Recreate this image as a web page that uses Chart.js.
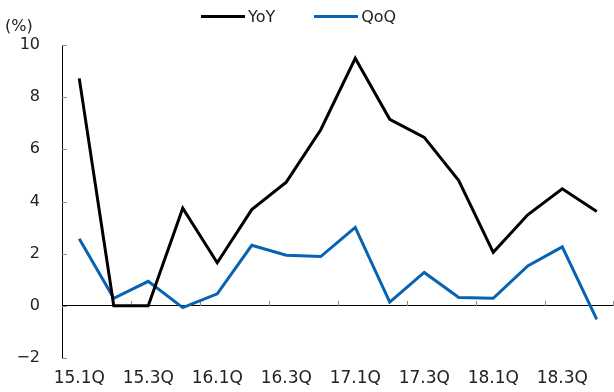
<!DOCTYPE html>
<html lang="ko">
<head>
  <meta charset="UTF-8">
  <title>YoY / QoQ</title>
  <script src="https://cdn.jsdelivr.net/npm/chart.js"></script>
  <style>
    html, body { margin: 0; padding: 0; background: #fff; }
    #wrap { position: relative; width: 614px; height: 392px; font-family: "DejaVu Sans", sans-serif; color: #222; }
    #grafica { display: block; }
    #unidad { position: absolute; left: 5px; top: 16px; font-size: 16px; }
    #leyenda { position: absolute; top: 7px; left: 201px; display: flex; font-size: 16px; line-height: 19px; }
    .item { display: flex; align-items: center; margin-right: 39px; }
    .linea { width: 44px; height: 3px; margin-right: 3px; }
  </style>
</head>
<body>
  <div id="wrap">
    <canvas id="grafica" width="614" height="392"></canvas>
    <div id="unidad">(%)</div>
    <div id="leyenda"></div>
  </div>

  <script>
    var trimestres = ['15.1Q', '15.2Q', '15.3Q', '15.4Q', '16.1Q', '16.2Q', '16.3Q', '16.4Q',
                      '17.1Q', '17.2Q', '17.3Q', '17.4Q', '18.1Q', '18.2Q', '18.3Q', '18.4Q'];
    var yoy = [8.72, 0, 0, 3.74, 1.65, 3.69, 4.74, 6.75, 9.49, 7.15, 6.46, 4.80, 2.05, 3.49, 4.49, 3.62];
    var qoq = [2.57, 0.29, 0.94, -0.07, 0.46, 2.32, 1.94, 1.89, 3.01, 0.14, 1.28, 0.32, 0.29, 1.53, 2.26, -0.52];
    var ticksY = [-2, 0, 2, 4, 6, 8, 10];

    var series = [
      { label: 'YoY', data: yoy, color: '#000000' },
      { label: 'QoQ', data: qoq, color: '#0762b2' }
    ];

    // leyenda en html
    var leyenda = document.getElementById('leyenda');
    series.forEach(function (s) {
      var item = document.createElement('div');
      item.className = 'item';
      var linea = document.createElement('span');
      linea.className = 'linea';
      linea.style.background = s.color;
      var texto = document.createElement('span');
      texto.textContent = s.label;
      item.appendChild(linea);
      item.appendChild(texto);
      leyenda.appendChild(item);
    });

    // marcas pequeñas: hacia dentro en el eje Y, hacia arriba sobre la línea de cero
    var marcas = {
      id: 'marcas',
      beforeDatasetsDraw: function (chart) {
        var ctx = chart.ctx;
        var x = chart.scales.x, y = chart.scales.y;
        ctx.save();
        ctx.strokeStyle = '#8a8a8a';
        ctx.lineWidth = 1;
        ctx.beginPath();
        ticksY.forEach(function (v) {
          var py = Math.round(y.getPixelForValue(v)) + 0.5;
          ctx.moveTo(x.left, py);
          ctx.lineTo(x.left + 5, py);
        });
        var y0 = Math.round(y.getPixelForValue(0));
        for (var i = 1; i < trimestres.length; i += 2) {
          var px = i + 1 < trimestres.length
            ? (x.getPixelForValue(i) + x.getPixelForValue(i + 1)) / 2
            : x.right - 1;
          px = Math.round(px) + 0.5;
          ctx.moveTo(px, y0);
          ctx.lineTo(px, y0 - 5);
        }
        ctx.stroke();
        ctx.restore();
      }
    };

    new Chart(document.getElementById('grafica'), {
      type: 'line',
      data: {
        labels: trimestres,
        datasets: series.map(function (s) {
          return {
            label: s.label,
            data: s.data,
            borderColor: s.color,
            backgroundColor: s.color,
            borderWidth: 3,
            pointRadius: 0,
            tension: 0
          };
        })
      },
      options: {
        responsive: false,
        animation: false,
        layout: { padding: { top: 45, right: 0, bottom: 3, left: 0 } },
        plugins: {
          legend: { display: false },
          tooltip: { enabled: false }
        },
        scales: {
          x: {
            offset: true,
            afterFit: function (s) { s.height = 31; },
            grid: { display: false, offset: true, drawTicks: false },
            border: { display: false },
            ticks: {
              autoSkip: false,
              maxRotation: 0,
              padding: 10,
              color: '#222',
              font: { family: 'DejaVu Sans', size: 17 },
              callback: function (v, i) { return i % 2 === 0 ? trimestres[i] : ''; }
            }
          },
          y: {
            min: -2,
            max: 10,
            afterFit: function (s) { s.width = 62; },
            afterBuildTicks: function (s) { s.ticks = ticksY.map(function (v) { return { value: v }; }); },
            border: { display: true, color: '#000', width: 1 },
            grid: {
              drawTicks: false,
              color: function (c) { return c.tick && c.tick.value === 0 ? '#000' : 'rgba(0,0,0,0)'; },
              lineWidth: 1
            },
            ticks: {
              padding: 22,
              color: '#222',
              font: { family: 'DejaVu Sans', size: 16 },
              callback: function (v) { return v < 0 ? '\u2212' + Math.abs(v) : String(v); }
            }
          }
        }
      },
      plugins: [marcas]
    });
  </script>
</body>
</html>
